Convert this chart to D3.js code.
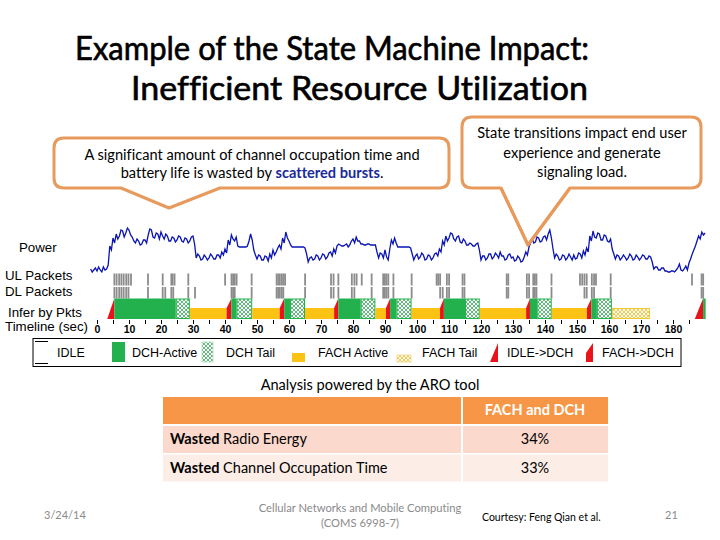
<!DOCTYPE html>
<html>
<head>
<meta charset="utf-8">
<script src="https://cdn.jsdelivr.net/npm/d3@7"></script>
<style>
  body { margin: 0; background: #fff; }
  svg { display: block; }
  text { font-variant-ligatures: none; }
</style>
</head>
<body>
<svg id="slide" width="720" height="540"></svg>
<script>
// power trace, one reading every half second starting at t = -2
var powerStart = -2, powerStep = 0.5;
var powerValues = [
	5, 2, 4, 6, 3, 7, 4, 2, 7, 4, 5, 9, 28, 24, 36, 31, 40, 35, 38, 44,
	43, 37, 41, 46, 44, 39, 37, 33, 31, 35, 33, 29, 30, 34, 34, 31, 39, 45, 44, 37,
	36, 41, 40, 35, 42, 38, 35, 40, 38, 33, 33, 37, 36, 32, 34, 38, 37, 33, 32, 36,
	35, 31, 33, 37, 38, 30, 16, 20, 18, 14, 15, 19, 17, 14, 16, 20, 18, 15, 15, 19,
	19, 16, 22, 19, 25, 21, 34, 29, 39, 35, 33, 37, 28, 27, 27, 27, 27, 27, 28, 33,
	40, 34, 24, 19, 15, 19, 18, 14, 14, 18, 17, 13, 20, 16, 24, 19, 22, 26, 29, 25,
	36, 31, 42, 36, 33, 29, 27, 27, 27, 27, 27, 27, 27, 27, 26, 20, 12, 16, 17, 14,
	15, 19, 18, 14, 16, 20, 19, 15, 17, 21, 22, 18, 25, 21, 28, 30, 29, 28, 28, 29,
	30, 27, 29, 33, 35, 31, 37, 33, 33, 30, 30, 29, 29, 30, 30, 29, 29, 29, 29, 22,
	16, 21, 20, 16, 24, 17, 14, 25, 34, 30, 36, 31, 27, 27, 27, 27, 27, 27, 27, 27,
	26, 20, 14, 18, 20, 15, 17, 21, 19, 14, 15, 19, 18, 14, 16, 20, 21, 18, 25, 22,
	33, 29, 38, 33, 36, 41, 40, 35, 33, 37, 38, 32, 31, 35, 33, 29, 29, 31, 30, 28,
	28, 30, 31, 24, 14, 18, 18, 14, 16, 20, 20, 15, 17, 21, 19, 16, 22, 18, 18, 14,
	15, 19, 20, 16, 17, 13, 14, 18, 16, 12, 13, 17, 22, 19, 27, 31, 35, 31, 32, 37,
	36, 32, 33, 37, 38, 34, 40, 44, 36, 25, 16, 20, 18, 14, 15, 19, 18, 14, 16, 20,
	17, 14, 19, 15, 16, 21, 20, 16, 23, 19, 26, 22, 38, 33, 43, 37, 36, 41, 40, 34,
	34, 39, 38, 33, 32, 35, 25, 20, 15, 19, 18, 14, 16, 19, 17, 14, 16, 20, 18, 14,
	15, 19, 17, 14, 16, 19, 18, 15, 15, 18, 17, 12, 5, 7, 7, 4, 4, 6, 6, 3,
	3, 2, 2, 3, 3, 2, 4, 6, 10, 4, 3, 5, 8, 4, 11, 15, 20, 24, 28, 33,
	38, 35, 42, 39, 41];

var ulPackets = [5.4, 6.1, 6.9, 7.6, 8.3, 9.1, 9.8, 10.6, 15.9, 20.5, 23.2, 23.6, 24.2, 28.5,
	40, 42, 42.5, 43, 43.6, 48.3, 56.1, 56.6, 57.1, 57.7, 58.2, 58.75, 65, 73.1, 73.9, 75.4,
	79.6, 80.4, 81.1, 82.7, 85.8, 89.4, 89.9, 90.4, 91, 92.6, 98.3, 106.1, 106.6, 107.2,
	109.3, 110, 114.2, 114.8, 128, 128.5, 134.3, 135, 136.3, 136.8, 137.3, 142, 150.9,
	151.6, 152.3, 153, 154.6, 155.3, 155.9, 160.5, 185.9, 188.9, 189.4];

var dlPackets = [5.4, 6.1, 6.9, 7.6, 8.3, 9.1, 9.8, 15.9, 20.5, 21.3, 23.2, 23.8, 28.5, 30.6,
	42, 42.5, 43, 48.3, 56.1, 56.6, 57.1, 57.7, 58.2, 65, 73.1, 73.9, 75.4, 79.6, 80.4,
	85.8, 89.4, 89.9, 90.4, 91, 92.6, 98.3, 107.2, 108, 109.3, 110, 114.2, 114.8, 128,
	128.5, 134.3, 135, 136.3, 136.8, 137.3, 142, 152.3, 153, 154.6, 155.3, 160.5, 188.9, 189.4];

// inferred RRC states: [kind, start, end]
var states = [
	["idleDch", 3.2, 5.4], ["dch", 5.4, 24.6], ["dchTail", 24.6, 29], ["fach", 29, 40.5],
	["fachDch", 40.5, 42], ["dch", 42, 43.6], ["dchTail", 43.6, 48.5], ["fach", 48.5, 57.1],
	["fachDch", 57.1, 58.5], ["dch", 58.5, 60.3], ["dchTail", 60.3, 65], ["fach", 65, 74.1],
	["fachDch", 74.1, 75.4], ["dch", 75.4, 82.4], ["dchTail", 82.4, 87], ["fach", 87, 90.3],
	["fachDch", 90.3, 91.6], ["dch", 91.6, 93.6], ["dchTail", 93.6, 98.3], ["fach", 98.3, 107.2],
	["fachDch", 107.2, 108.4], ["dch", 108.4, 115], ["dchTail", 115, 119.6], ["fach", 119.6, 134.1],
	["fachDch", 134.1, 135.3], ["dch", 135.3, 137.6], ["dchTail", 137.6, 142.1], ["fach", 142.1, 153.1],
	["fachDch", 153.1, 154.5], ["dch", 154.5, 156.2], ["dchTail", 156.2, 160.9], ["fachTail", 160.9, 172.8],
	["idleDch", 186.8, 189.4], ["dch", 189.4, 190.2]
];

var tickValues = d3.range(0, 190, 5);

var rowLabels = [["Power", 19, 252], ["UL Packets", 5, 280], ["DL Packets", 5, 296],
	["Infer by Pkts", 8, 317], ["Timeline (sec)", 5, 331]];

var legendItems = [
	["idle", "IDLE", 35, 57], ["dch", "DCH-Active", 112, 132], ["dchTail", "DCH Tail", 202, 226],
	["fach", "FACH Active", 292, 318], ["fachTail", "FACH Tail", 397, 422],
	["idleDch", "IDLE->DCH", 490, 507], ["fachDch", "FACH->DCH", 586, 602]
];

var tableHeader = "FACH and DCH";
var tableRows = [["Wasted", " Radio Energy", "34%"], ["Wasted", " Channel Occupation Time", "33%"]];

var GREEN = "#22b14c", YELLOW = "#fcc214", RED = "#e8141a", ORANGE = "#e89a5c";

var svg = d3.select("#slide");
svg.append("rect").attr("width", 720).attr("height", 540).attr("fill", "#fff");

var defs = svg.append("defs");
function hatch(id, bg, fg) {
	var p = defs.append("pattern").attr("id", id)
		.attr("patternUnits", "userSpaceOnUse").attr("width", 4).attr("height", 4);
	p.append("rect").attr("width", 4).attr("height", 4).attr("fill", bg);
	p.append("path").attr("d", "M0,0L4,4M4,0L0,4").attr("stroke", fg).attr("stroke-width", 0.8);
}
hatch("hatchDch", "#ffffff", "#3aa85a");
hatch("hatchFach", "#fffbe8", "#e8c040");

var x = d3.scaleLinear().domain([0, 180]).range([97, 673]);
var y = d3.scaleLinear().domain([0, 50]).range([274, 224]);

// title
var title = svg.append("g").attr("font-family", "Lato, 'Open Sans', sans-serif")
	.attr("font-size", 32).attr("fill", "#000").attr("stroke", "#000").attr("stroke-width", 0.6);
title.append("text").attr("x", 75).attr("y", 60)
	.attr("textLength", 514).attr("lengthAdjust", "spacingAndGlyphs")
	.text("Example of the State Machine Impact:");
title.append("text").attr("x", 131).attr("y", 100)
	.attr("textLength", 457).attr("lengthAdjust", "spacingAndGlyphs")
	.text("Inefficient Resource Utilization");

// callouts
function calloutPath(x0, y0, x1, y1, r, pl, pt, pr, tip) {
	return "M" + (x0 + r) + "," + y0 +
		"L" + (x1 - r) + "," + y0 + "Q" + x1 + "," + y0 + " " + x1 + "," + (y0 + r) +
		"L" + x1 + "," + (y1 - r) + "Q" + x1 + "," + y1 + " " + (x1 - r) + "," + y1 +
		"L" + pr + "," + y1 + "L" + pt + "," + tip + "L" + pl + "," + y1 +
		"L" + (x0 + r) + "," + y1 + "Q" + x0 + "," + y1 + " " + x0 + "," + (y1 - r) +
		"L" + x0 + "," + (y0 + r) + "Q" + x0 + "," + y0 + " " + (x0 + r) + "," + y0 + "Z";
}
var c1 = calloutPath(54, 138, 449, 188, 10, 121, 169, 220, 208);
var c2 = calloutPath(462, 117, 701, 188, 10, 501, 528, 570, 245);
[c1, c2].forEach(function(d) {
	svg.append("path").attr("d", d).attr("fill", "#fff")
		.attr("stroke", ORANGE).attr("stroke-width", 3).attr("stroke-linejoin", "round");
});

var calloutText = svg.append("g").attr("font-family", "Lato, sans-serif")
	.attr("font-size", 14.6).attr("text-anchor", "middle").attr("fill", "#000");
calloutText.append("text").attr("x", 252).attr("y", 160)
	.text("A significant amount of channel occupation time and");
var l2 = calloutText.append("text").attr("x", 252).attr("y", 178);
l2.append("tspan").text("battery life is wasted by ");
l2.append("tspan").attr("fill", "#1a2a9a").attr("font-weight", "bold").text("scattered bursts");
l2.append("tspan").text(".");
["State transitions impact end user", "experience and generate", "signaling load."]
	.forEach(function(t, i) {
		calloutText.append("text").attr("x", 582).attr("y", 138 + i * 19.5).text(t);
	});

// chart row labels
svg.append("g").attr("font-family", "'Liberation Sans', Arial, sans-serif")
	.attr("font-size", 13.3).attr("fill", "#000")
	.selectAll("text").data(rowLabels).enter().append("text")
	.attr("x", function(d) { return d[1]; })
	.attr("y", function(d) { return d[2]; })
	.text(function(d) { return d[0]; });

// packets
function drawPackets(data, y0, y1) {
	svg.append("g").selectAll("rect").data(data).enter().append("rect")
		.attr("x", function(d) { return x(d) - 0.8; })
		.attr("y", y0).attr("width", 1.8).attr("height", y1 - y0)
		.attr("fill", "#8c8c8c");
}
drawPackets(ulPackets, 273.5, 285.5);
drawPackets(dlPackets, 287, 298.5);

// states
var stTop = 298.5, stMid = 308, stBot = 319;
var stateG = svg.append("g");
states.forEach(function(s) {
	var a = x(s[1]), b = x(s[2]), k = s[0];
	if (k == "dch") {
		stateG.append("rect").attr("x", a).attr("y", stTop).attr("width", b - a)
			.attr("height", stBot - stTop).attr("fill", GREEN);
	} else if (k == "dchTail") {
		stateG.append("rect").attr("x", a + 0.5).attr("y", stTop + 0.5).attr("width", b - a - 1)
			.attr("height", stBot - stTop - 1).attr("fill", "url(#hatchDch)")
			.attr("stroke", GREEN).attr("stroke-width", 1);
	} else if (k == "fach") {
		stateG.append("rect").attr("x", a).attr("y", stMid).attr("width", b - a)
			.attr("height", stBot - stMid).attr("fill", YELLOW);
	} else if (k == "fachTail") {
		stateG.append("rect").attr("x", a + 0.5).attr("y", stMid + 0.5).attr("width", b - a - 1)
			.attr("height", stBot - stMid - 1).attr("fill", "url(#hatchFach)")
			.attr("stroke", "#f0c830").attr("stroke-width", 1);
	} else if (k == "idleDch") {
		stateG.append("path").attr("d", "M" + a + "," + stBot + "L" + b + "," + stTop + "L" + b + "," + stBot + "Z")
			.attr("fill", RED);
	} else if (k == "fachDch") {
		stateG.append("path").attr("d", "M" + a + "," + stBot + "L" + a + "," + stMid + "L" + b + "," + stTop +
			"L" + b + "," + stBot + "Z").attr("fill", RED);
	}
});

// power trace
var line = d3.line()
	.x(function(d, i) { return x(powerStart + i * powerStep); })
	.y(function(d) { return y(d); });
svg.append("path").datum(powerValues).attr("d", line)
	.attr("fill", "none").attr("stroke", "#0a14b4").attr("stroke-width", 1.3);

// callout 2 pointer drawn again on top of the trace
svg.append("path").attr("d", "M501,188L528,245L570,188").attr("fill", "none")
	.attr("stroke", ORANGE).attr("stroke-width", 3).attr("stroke-linejoin", "round");

// timeline axis
var axis = d3.axisBottom(x).tickValues(tickValues).tickSize(4)
	.tickFormat(function(d) { return d % 10 == 0 && d <= 180 ? d : ""; });
var ax = svg.append("g").attr("transform", "translate(0,320)").call(axis);
ax.select(".domain").remove();
ax.selectAll("text").attr("font-family", "'Liberation Sans', Arial, sans-serif")
	.attr("font-size", 10.5).attr("font-weight", "bold").attr("dy", "0.6em");

// legend
var lg = svg.append("g");
lg.append("rect").attr("x", 33).attr("y", 338.5).attr("width", 648).attr("height", 28)
	.attr("fill", "#fff").attr("stroke", "#000").attr("stroke-width", 1);
legendItems.forEach(function(d) {
	var k = d[0], ix = d[2];
	if (k == "idle") {
		lg.append("path").attr("d", "M" + ix + ",341.5h13M" + ix + ",363.5h13")
			.attr("stroke", "#000").attr("stroke-width", 1);
	} else if (k == "dch") {
		lg.append("rect").attr("x", ix).attr("y", 342).attr("width", 13).attr("height", 20).attr("fill", GREEN);
	} else if (k == "dchTail") {
		lg.append("rect").attr("x", ix).attr("y", 342).attr("width", 11).attr("height", 20)
			.attr("fill", "url(#hatchDch)").attr("stroke", "#b8dcc0").attr("stroke-width", 0.8);
	} else if (k == "fach") {
		lg.append("rect").attr("x", ix).attr("y", 353).attr("width", 13).attr("height", 9).attr("fill", YELLOW);
	} else if (k == "fachTail") {
		lg.append("rect").attr("x", ix).attr("y", 355).attr("width", 14).attr("height", 7)
			.attr("fill", "url(#hatchFach)").attr("stroke", "#f0d880").attr("stroke-width", 0.8);
	} else if (k == "idleDch") {
		lg.append("path").attr("d", "M" + ix + ",362L" + (ix + 8) + ",343L" + (ix + 8) + ",362Z").attr("fill", RED);
	} else if (k == "fachDch") {
		lg.append("path").attr("d", "M" + ix + ",362L" + ix + ",353L" + (ix + 7) + ",343L" + (ix + 7) + ",362Z")
			.attr("fill", RED);
	}
	lg.append("text").attr("x", d[3]).attr("y", 357)
		.attr("font-family", "'Liberation Sans', Arial, sans-serif").attr("font-size", 12.5)
		.text(d[1]);
});

// analysis table
svg.append("text").attr("x", 370).attr("y", 390).attr("text-anchor", "middle")
	.attr("font-family", "Lato, sans-serif").attr("font-size", 14.6).text("Analysis powered by the ARO tool");

var tbl = svg.append("g").attr("font-family", "Lato, sans-serif").attr("font-size", 14.5);
tbl.append("rect").attr("x", 163).attr("y", 397).attr("width", 445).attr("height", 27).attr("fill", "#f79646");
tbl.append("rect").attr("x", 461).attr("y", 397).attr("width", 2).attr("height", 27).attr("fill", "#fff");
tbl.append("text").attr("x", 535).attr("y", 415).attr("text-anchor", "middle")
	.attr("fill", "#fff").attr("font-weight", "bold").text(tableHeader);
var rowFills = ["#fbd9cc", "#fdede7"];
tableRows.forEach(function(r, i) {
	var ry = 426 + i * 28.5;
	tbl.append("rect").attr("x", 163).attr("y", ry).attr("width", 298).attr("height", 27).attr("fill", rowFills[i]);
	tbl.append("rect").attr("x", 463).attr("y", ry).attr("width", 145).attr("height", 27).attr("fill", rowFills[i]);
	var t = tbl.append("text").attr("x", 170).attr("y", ry + 18);
	t.append("tspan").attr("font-weight", "bold").text(r[0]);
	t.append("tspan").text(r[1]);
	tbl.append("text").attr("x", 535).attr("y", ry + 18).attr("text-anchor", "middle").text(r[2]);
});

// footer
var ft = svg.append("g").attr("font-family", "Lato, sans-serif").attr("fill", "#8a8a8a").attr("font-size", 11);
ft.append("text").attr("x", 44).attr("y", 519).text("3/24/14");
ft.append("text").attr("x", 360).attr("y", 512).attr("text-anchor", "middle").attr("font-size", 11.2)
	.text("Cellular Networks and Mobile Computing");
ft.append("text").attr("x", 360).attr("y", 527).attr("text-anchor", "middle").attr("font-size", 11.2)
	.text("(COMS 6998-7)");
ft.append("text").attr("x", 482).attr("y", 521).attr("fill", "#000").attr("font-size", 10.5)
	.text("Courtesy: Feng Qian et al.");
ft.append("text").attr("x", 665).attr("y", 519).text("21");
</script>
</body>
</html>
